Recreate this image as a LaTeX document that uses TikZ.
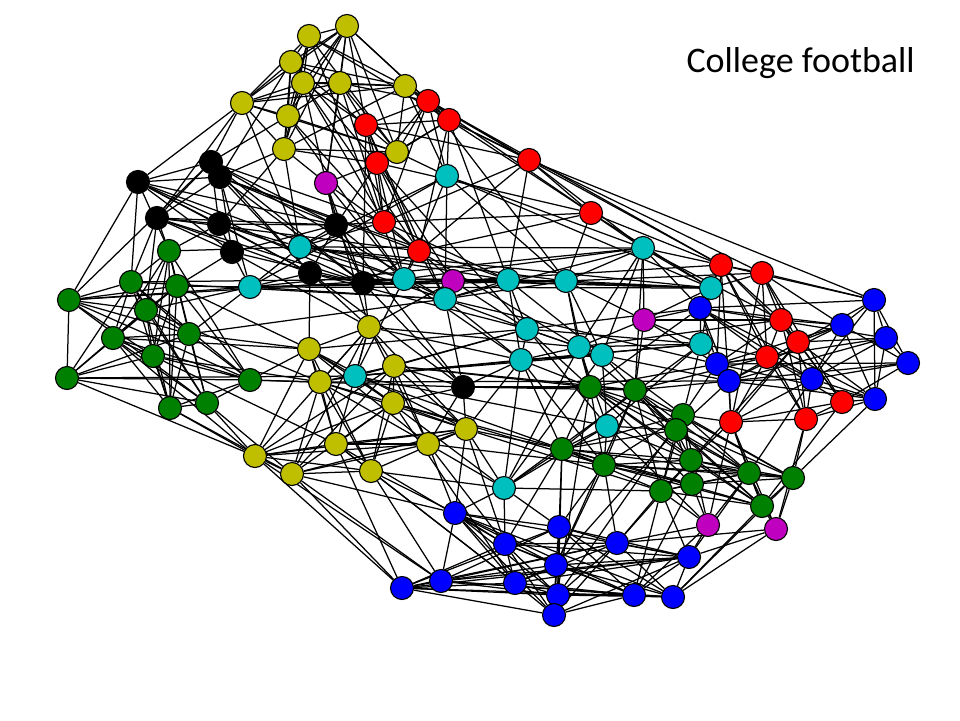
\documentclass[tikz,border=0pt]{standalone}
\usepackage{fontspec}
\setmainfont{Carlito}
\usetikzlibrary{backgrounds}
\definecolor{teamyellow}{rgb}{0.75,0.75,0}
\definecolor{teamcyan}{rgb}{0,0.75,0.75}
\definecolor{teammagenta}{rgb}{0.75,0,0.75}
\definecolor{teamgreen}{rgb}{0,0.5,0}
\tikzstyle{team} = [circle,draw=black,line width=1.1pt,minimum size=23pt,inner sep=0pt]
\tikzstyle{edge} = [draw=black,line width=1.25pt]
% edges inside one conference
\newcommand{\confedges}[3]{%
  \foreach \i in {1,...,#2}{%
    \foreach \j in {1,...,#2}{%
      \pgfmathtruncatemacro{\s}{mod(\i+\j,#3)}%
      \ifnum\i<\j\relax\ifnum\s>0\relax
        \draw[edge] (#1\i) -- (#1\j);
      \fi\fi
    }}}

\begin{document}
\begin{tikzpicture}[x=1pt,y=-1pt]
  \useasboundingbox (0,0) rectangle (960,720);
  \node[anchor=base west,font=\fontsize{36}{42}\selectfont] (title) at (683,72) {College football};
  % yellow, top
  \node[team,fill=teamyellow] (ya1) at (347,26) {};
  \node[team,fill=teamyellow] (ya2) at (309,36) {};
  \node[team,fill=teamyellow] (ya3) at (291,62) {};
  \node[team,fill=teamyellow] (ya4) at (303,83) {};
  \node[team,fill=teamyellow] (ya5) at (340,83) {};
  \node[team,fill=teamyellow] (ya6) at (405,86) {};
  \node[team,fill=teamyellow] (ya7) at (242,103) {};
  \node[team,fill=teamyellow] (ya8) at (288,116) {};
  \node[team,fill=teamyellow] (ya9) at (284,149) {};
  \node[team,fill=teamyellow] (ya10) at (397,152) {};
  % red, top
  \node[team,fill=red] (ra1) at (428,101) {};
  \node[team,fill=red] (ra2) at (449,120) {};
  \node[team,fill=red] (ra3) at (366,125) {};
  \node[team,fill=red] (ra4) at (377,163) {};
  \node[team,fill=red] (ra5) at (529,160) {};
  \node[team,fill=red] (ra6) at (591,213) {};
  \node[team,fill=red] (ra7) at (384,222) {};
  \node[team,fill=red] (ra8) at (419,251) {};
  % black
  \node[team,fill=black] (k1) at (211,162) {};
  \node[team,fill=black] (k2) at (220,177) {};
  \node[team,fill=black] (k3) at (138,182) {};
  \node[team,fill=black] (k4) at (157,218) {};
  \node[team,fill=black] (k5) at (219,224) {};
  \node[team,fill=black] (k6) at (232,252) {};
  \node[team,fill=black] (k7) at (336,225) {};
  \node[team,fill=black] (k8) at (310,273) {};
  \node[team,fill=black] (k9) at (363,283) {};
  \node[team,fill=black] (k10) at (463,387) {};
  % magenta
  \node[team,fill=teammagenta] (m1) at (326,183) {};
  \node[team,fill=teammagenta] (m2) at (453,281) {};
  \node[team,fill=teammagenta] (m3) at (644,320) {};
  \node[team,fill=teammagenta] (m4) at (708,525) {};
  \node[team,fill=teammagenta] (m5) at (776,529) {};
  % cyan
  \node[team,fill=teamcyan] (ca1) at (447,176) {};
  \node[team,fill=teamcyan] (ca2) at (300,247) {};
  \node[team,fill=teamcyan] (ca3) at (250,287) {};
  \node[team,fill=teamcyan] (ca4) at (404,279) {};
  \node[team,fill=teamcyan] (ca5) at (445,299) {};
  \node[team,fill=teamcyan] (ca6) at (508,280) {};
  \node[team,fill=teamcyan] (ca7) at (566,281) {};
  \node[team,fill=teamcyan] (ca8) at (643,248) {};
  \node[team,fill=teamcyan] (ca9) at (711,288) {};
  \node[team,fill=teamcyan] (cb1) at (527,329) {};
  \node[team,fill=teamcyan] (cb2) at (521,360) {};
  \node[team,fill=teamcyan] (cb3) at (579,347) {};
  \node[team,fill=teamcyan] (cb4) at (602,355) {};
  \node[team,fill=teamcyan] (cb5) at (701,344) {};
  \node[team,fill=teamcyan] (cb6) at (355,376) {};
  \node[team,fill=teamcyan] (cb7) at (607,426) {};
  \node[team,fill=teamcyan] (cb8) at (504,488) {};
  % green, left
  \node[team,fill=teamgreen] (ga1) at (169,251) {};
  \node[team,fill=teamgreen] (ga2) at (131,282) {};
  \node[team,fill=teamgreen] (ga3) at (177,286) {};
  \node[team,fill=teamgreen] (ga4) at (69,300) {};
  \node[team,fill=teamgreen] (ga5) at (146,310) {};
  \node[team,fill=teamgreen] (ga6) at (113,338) {};
  \node[team,fill=teamgreen] (ga7) at (189,334) {};
  \node[team,fill=teamgreen] (ga8) at (153,356) {};
  \node[team,fill=teamgreen] (ga9) at (67,378) {};
  \node[team,fill=teamgreen] (ga10) at (250,380) {};
  \node[team,fill=teamgreen] (ga11) at (170,408) {};
  \node[team,fill=teamgreen] (ga12) at (207,403) {};
  % yellow, middle
  \node[team,fill=teamyellow] (yb1) at (369,327) {};
  \node[team,fill=teamyellow] (yb2) at (309,349) {};
  \node[team,fill=teamyellow] (yb3) at (320,382) {};
  \node[team,fill=teamyellow] (yb4) at (394,366) {};
  \node[team,fill=teamyellow] (yb5) at (393,403) {};
  \node[team,fill=teamyellow] (yb6) at (466,429) {};
  \node[team,fill=teamyellow] (yb7) at (428,444) {};
  \node[team,fill=teamyellow] (yb8) at (336,444) {};
  \node[team,fill=teamyellow] (yb9) at (255,456) {};
  \node[team,fill=teamyellow] (yb10) at (292,474) {};
  \node[team,fill=teamyellow] (yb11) at (371,471) {};
  % red, right
  \node[team,fill=red] (rb1) at (721,265) {};
  \node[team,fill=red] (rb2) at (762,273) {};
  \node[team,fill=red] (rb3) at (781,320) {};
  \node[team,fill=red] (rb4) at (798,342) {};
  \node[team,fill=red] (rb5) at (767,357) {};
  \node[team,fill=red] (rb6) at (731,422) {};
  \node[team,fill=red] (rb7) at (806,419) {};
  \node[team,fill=red] (rb8) at (842,402) {};
  % blue, right
  \node[team,fill=blue] (ba1) at (874,300) {};
  \node[team,fill=blue] (ba2) at (700,308) {};
  \node[team,fill=blue] (ba3) at (842,325) {};
  \node[team,fill=blue] (ba4) at (886,338) {};
  \node[team,fill=blue] (ba5) at (908,363) {};
  \node[team,fill=blue] (ba6) at (717,364) {};
  \node[team,fill=blue] (ba7) at (729,381) {};
  \node[team,fill=blue] (ba8) at (812,379) {};
  \node[team,fill=blue] (ba9) at (875,399) {};
  % green, middle
  \node[team,fill=teamgreen] (gb1) at (590,387) {};
  \node[team,fill=teamgreen] (gb2) at (635,390) {};
  \node[team,fill=teamgreen] (gb3) at (683,415) {};
  \node[team,fill=teamgreen] (gb4) at (676,430) {};
  \node[team,fill=teamgreen] (gb5) at (562,449) {};
  \node[team,fill=teamgreen] (gb6) at (604,465) {};
  \node[team,fill=teamgreen] (gb7) at (691,460) {};
  \node[team,fill=teamgreen] (gb8) at (692,484) {};
  \node[team,fill=teamgreen] (gb9) at (661,491) {};
  \node[team,fill=teamgreen] (gb10) at (749,473) {};
  \node[team,fill=teamgreen] (gb11) at (793,478) {};
  \node[team,fill=teamgreen] (gb12) at (762,506) {};
  % blue, bottom
  \node[team,fill=blue] (bb1) at (455,513) {};
  \node[team,fill=blue] (bb2) at (559,527) {};
  \node[team,fill=blue] (bb3) at (505,544) {};
  \node[team,fill=blue] (bb4) at (617,543) {};
  \node[team,fill=blue] (bb5) at (689,557) {};
  \node[team,fill=blue] (bb6) at (556,565) {};
  \node[team,fill=blue] (bb7) at (441,581) {};
  \node[team,fill=blue] (bb8) at (515,583) {};
  \node[team,fill=blue] (bb9) at (402,588) {};
  \node[team,fill=blue] (bb10) at (558,595) {};
  \node[team,fill=blue] (bb11) at (634,595) {};
  \node[team,fill=blue] (bb12) at (673,597) {};
  \node[team,fill=blue] (bb13) at (554,615) {};

  \begin{scope}[on background layer]
    \confedges{ya}{10}{7}
    \confedges{ra}{8}{9}
    \confedges{k}{9}{7}
    \confedges{ga}{12}{5}
    \confedges{yb}{11}{6}
    \confedges{ca}{9}{7}
    \confedges{cb}{8}{9}
    \confedges{rb}{8}{9}
    \confedges{ba}{9}{7}
    \confedges{gb}{12}{5}
    \confedges{bb}{13}{5}
    % games between conferences
    \foreach \a/\b in {ya6/ra1, ya6/ra2, ya5/ra3, ya10/ra4, ya10/ra1, ya1/ra3, ya1/ra1, ya4/ra3,
      ya9/ra4, ya8/ra7, ya3/ra4, ya2/ra2, ya10/ra2, ya5/ra1, ya7/k3, ya7/k1, ya9/k2, ya8/k1,
      ya9/k5, ya3/k2, ya7/k4, ya4/k7, ya10/ca1, ya6/ca1, ya9/ca2, ya2/ca4, ya5/ra7,
      ya6/ra5, ya1/ra2, ya4/ra8, ya8/ca4, ya3/ra7, ya7/ca2,
      ra1/ca1, ra2/ca1, ra4/ca4, ra8/ca5, ra8/ca4, ra7/ca2, ra5/ca8, ra6/ca8, ra6/ca7, ra5/ca6,
      ra3/ca5, ra7/ca6, ra2/rb2, ra5/rb1, ra6/rb1, ra5/ba1, ra6/ca9, ra1/ca7, ra2/ca6,
      ra4/cb1, ra8/cb3, ra3/k9, ra1/rb1,
      k3/ga4, k3/ga1, k4/ga2, k4/ga1, k6/ga3, k3/ga2, k5/ga1, k1/ga4, k4/ga5,
      k2/ca3, k5/ca2, k7/ca4, k8/ca3, k9/ca4, k7/ca2, k6/ca3, k1/ca5, k2/ca6,
      k7/ra7, k7/ra4, k2/ra8, k1/ra7, k9/ra8, k8/yb2, k9/yb1, k8/yb1, k3/ca4, k4/ra8,
      k5/ca5, k6/yb1, k8/cb1, k9/ca6,
      k10/yb4, k10/yb5, k10/yb6, k10/yb7, k10/cb2, k10/k9, k10/k8, k10/k7, k10/gb1, k10/ca5,
      k10/ga10, k10/gb2,
      m1/ra4, m1/k7, m1/ca4, m1/k9, m1/ya9, m1/ra8, m1/yb1, m1/ya5, m1/ya1,
      m2/ca5, m2/ca4, m2/ra8, m2/ca6, m2/cb1, m2/ca9, m2/yb1, m2/k9, m2/rb1, m2/ra4,
      m3/ca8, m3/cb5, m3/rb3, m3/cb3, m3/gb2, m3/ba2, m3/ca7, m3/ba6, m3/ca9,
      m4/gb8, m4/gb9, m4/bb5, m4/bb4, m4/gb10, m4/bb11, m4/rb6, m4/cb7, m4/gb3,
      m5/gb12, m5/gb11, m5/bb5, m5/bb12, m5/gb10, m5/rb7, m5/bb4, m5/rb6,
      ga10/yb2, ga10/yb3, ga12/yb9, ga11/yb9, ga9/yb9, ga7/yb2, ga3/yb2, ga5/yb3, ga8/yb8,
      ga6/yb9, ga12/yb10, ga4/ca3, ga3/ca3, ga1/ca2, ga7/ca3, ga2/ca4, ga9/cb6, ga7/ca5,
      ga4/ca4, ga2/ca5, ga6/yb2, ga8/yb3, ga11/yb10, ga5/ca3,
      yb3/ba7, cb8/gb9, yb4/gb2, yb1/cb2, yb2/cb1,
      yb9/bb9, yb10/bb9, yb10/bb7, yb11/bb7, yb11/bb1, yb8/bb9, yb7/bb1, yb6/bb1, yb6/bb3,
      yb5/bb8, yb8/bb3, yb11/bb8, yb4/cb6, yb1/cb6, yb3/cb6, yb5/cb6, yb6/cb2, yb4/cb1,
      yb7/cb8, yb11/cb8, yb6/cb8, yb2/cb6, yb6/gb5, yb7/gb6, yb4/gb1, yb5/gb5, yb6/gb9,
      yb9/bb7, yb8/bb8, yb7/bb3, yb10/bb1, yb5/gb6, yb1/cb3,
      ca5/cb1, ca6/cb1, ca7/cb3, ca8/cb3, ca8/cb4, ca9/cb5, ca6/cb2, ca7/cb4, ca4/cb6, ca5/cb2,
      ca9/rb1, ca9/rb2, ca9/ba2, ca8/rb1, ca8/ba2, ca8/rb3, ca6/cb4, ca7/gb1, ca8/gb2,
      ca5/ba6, ca4/cb2, ca7/rb2,
      cb3/gb1, cb4/gb2, cb2/gb1, cb7/gb6, cb7/gb5, cb7/gb4, cb8/gb5, cb4/gb3, cb5/gb3,
      cb1/gb1, cb2/gb5, cb8/bb2, cb8/bb3, cb8/bb1, cb5/ba6, cb5/ba2, cb5/rb5, cb4/ba7, cb3/rb3,
      cb1/ba2, cb2/gb6, cb3/gb4, cb7/gb7, cb6/gb5,
      gb5/bb2, gb6/bb4, gb9/bb5, gb8/bb11, gb9/bb4, gb6/bb2, gb5/bb3, gb10/bb5, gb12/bb12,
      gb11/bb12, gb4/bb6, gb7/bb4, gb3/bb10, gb2/bb6, gb1/bb13, gb6/bb6, gb9/bb11, gb5/bb10,
      gb3/rb6, gb10/rb6, gb11/rb7, gb12/rb8, gb11/ba9, gb4/ba7, gb3/ba6, gb7/rb6, gb10/ba8,
      gb12/rb6, gb2/ba7, gb1/ba6, gb2/rb5, gb7/rb4, gb1/ba2,
      rb1/ba2, rb2/ba1, rb3/ba3, rb4/ba3, rb5/ba6, rb6/ba7, rb7/ba8, rb8/ba9, rb4/ba4,
      rb3/ba8, rb2/ba3, rb1/ba6, rb5/ba8, rb7/ba9, rb8/ba5, rb6/ba8, rb1/ba1, rb3/ba6,
      rb5/ba2, rb4/ba9}
      \draw[edge] (\a) -- (\b);
  \end{scope}
\end{tikzpicture}
\end{document}
